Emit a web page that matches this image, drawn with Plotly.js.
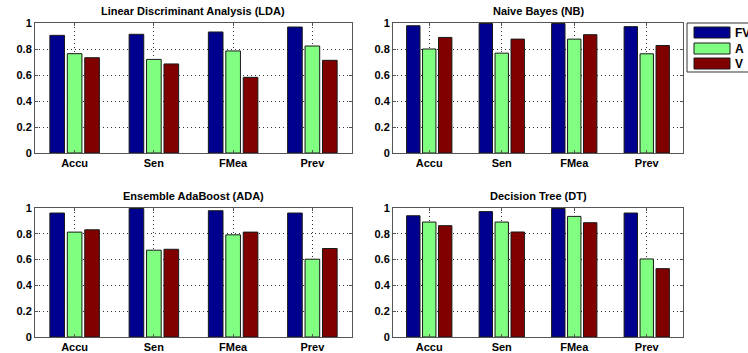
<!DOCTYPE html>
<html>
<head>
<meta charset="utf-8">
<script src="https://cdn.plot.ly/plotly-3.0.1.min.js"></script>
<style>html,body{margin:0;padding:0;background:#fff;}#chart{width:748px;height:353px;}</style>
</head>
<body>
<div id="chart"></div>
<script>
// ---- data ----
var categories = ['Accu', 'Sen', 'FMea', 'Prev'];
var seriesNames = ['FV', 'A', 'V'];
var panelTitles = ['Linear Discriminant Analysis (LDA)', 'Naive Bayes (NB)', 'Ensemble AdaBoost (ADA)', 'Decision Tree (DT)'];
var yTickVals = [0, 0.2, 0.4, 0.6, 0.8, 1];
var yTickText = ['0', '0.2', '0.4', '0.6', '0.8', '1'];

var lda_FV = [0.905, 0.913, 0.931, 0.969];
var lda_A  = [0.764, 0.720, 0.785, 0.823];
var lda_V  = [0.733, 0.685, 0.582, 0.713];

var nb_FV = [0.979, 0.996, 0.996, 0.972];
var nb_A  = [0.800, 0.768, 0.876, 0.763];
var nb_V  = [0.889, 0.876, 0.910, 0.827];

var ada_FV = [0.961, 0.996, 0.979, 0.961];
var ada_A  = [0.813, 0.673, 0.792, 0.603];
var ada_V  = [0.831, 0.680, 0.813, 0.686];

var dt_FV = [0.940, 0.972, 0.996, 0.961];
var dt_A  = [0.891, 0.891, 0.935, 0.605];
var dt_V  = [0.863, 0.814, 0.886, 0.530];

// ---- styling ----
var colors = ['#00008F', '#80FF80', '#800000'];
var W = 748, H = 353;
function px(x) { return x / W; }
function py(y) { return 1 - y / H; }

var panels = [
  {data: [lda_FV, lda_A, lda_V], x: [35, 352], y: [23, 153]},
  {data: [nb_FV, nb_A, nb_V], x: [393, 683], y: [23, 153]},
  {data: [ada_FV, ada_A, ada_V], x: [35, 352], y: [208, 337]},
  {data: [dt_FV, dt_A, dt_V], x: [393, 683], y: [208, 337]}
];

var font = {family: 'Liberation Sans, Arial, Helvetica, sans-serif', size: 11, color: '#000', weight: 'bold'};

var traces = [];
var layout = {
  width: W, height: H,
  margin: {l: 0, r: 0, t: 0, b: 0},
  paper_bgcolor: '#fff', plot_bgcolor: '#fff',
  barmode: 'group', bargap: 0.34, bargroupgap: 0.16,
  showlegend: false,
  font: font,
  annotations: [], shapes: []
};

panels.forEach(function (p, i) {
  var n = i + 1;
  var xa = 'x' + (n === 1 ? '' : n), ya = 'y' + (n === 1 ? '' : n);
  p.data.forEach(function (vals, s) {
    traces.push({
      type: 'bar', x: categories, y: vals, name: seriesNames[s],
      xaxis: xa, yaxis: ya,
      marker: {color: colors[s], line: {color: '#1a1a1a', width: 1}},
      hoverinfo: 'skip'
    });
  });
  var axCommon = {
    showline: true, mirror: 'ticks', linecolor: '#555', linewidth: 1,
    showgrid: true, gridcolor: '#333', griddash: '1px,3px', gridwidth: 1,
    zeroline: false, ticks: 'inside', ticklen: 3, tickcolor: '#555',
    tickfont: font, fixedrange: true
  };
  layout['xaxis' + (n === 1 ? '' : n)] = Object.assign({}, axCommon, {
    domain: [px(p.x[0]), px(p.x[1])], anchor: ya,
    type: 'category', range: [-0.5, 3.5], categoryorder: 'array', categoryarray: categories
  });
  layout['yaxis' + (n === 1 ? '' : n)] = Object.assign({}, axCommon, {
    domain: [py(p.y[1]), py(p.y[0])], anchor: xa,
    range: [0, 1], tickvals: yTickVals, ticktext: yTickText
  });
  layout.annotations.push({
    xref: 'paper', yref: 'paper', x: px((p.x[0] + p.x[1]) / 2), y: py(p.y[0] - 12),
    xanchor: 'center', yanchor: 'middle', showarrow: false,
    text: panelTitles[i], font: font
  });
});

// legend box
layout.shapes.push({type: 'rect', xref: 'paper', yref: 'paper',
  x0: px(687), x1: px(770), y0: py(72), y1: py(23),
  line: {color: '#333', width: 1}, fillcolor: '#fff'});
var patchY = [[27, 38], [43, 54], [58, 69]];
seriesNames.forEach(function (nm, s) {
  layout.shapes.push({type: 'rect', xref: 'paper', yref: 'paper',
    x0: px(694), x1: px(730), y0: py(patchY[s][1]), y1: py(patchY[s][0]),
    line: {color: '#1a1a1a', width: 1}, fillcolor: colors[s]});
  layout.annotations.push({xref: 'paper', yref: 'paper', x: px(733), y: py((patchY[s][0] + patchY[s][1]) / 2),
    xanchor: 'left', yanchor: 'middle', showarrow: false, text: nm,
    font: {family: font.family, size: 12, color: '#000', weight: 'bold'}});
});

Plotly.newPlot('chart', traces, layout, {staticPlot: true, displayModeBar: false});
</script>
</body>
</html>
